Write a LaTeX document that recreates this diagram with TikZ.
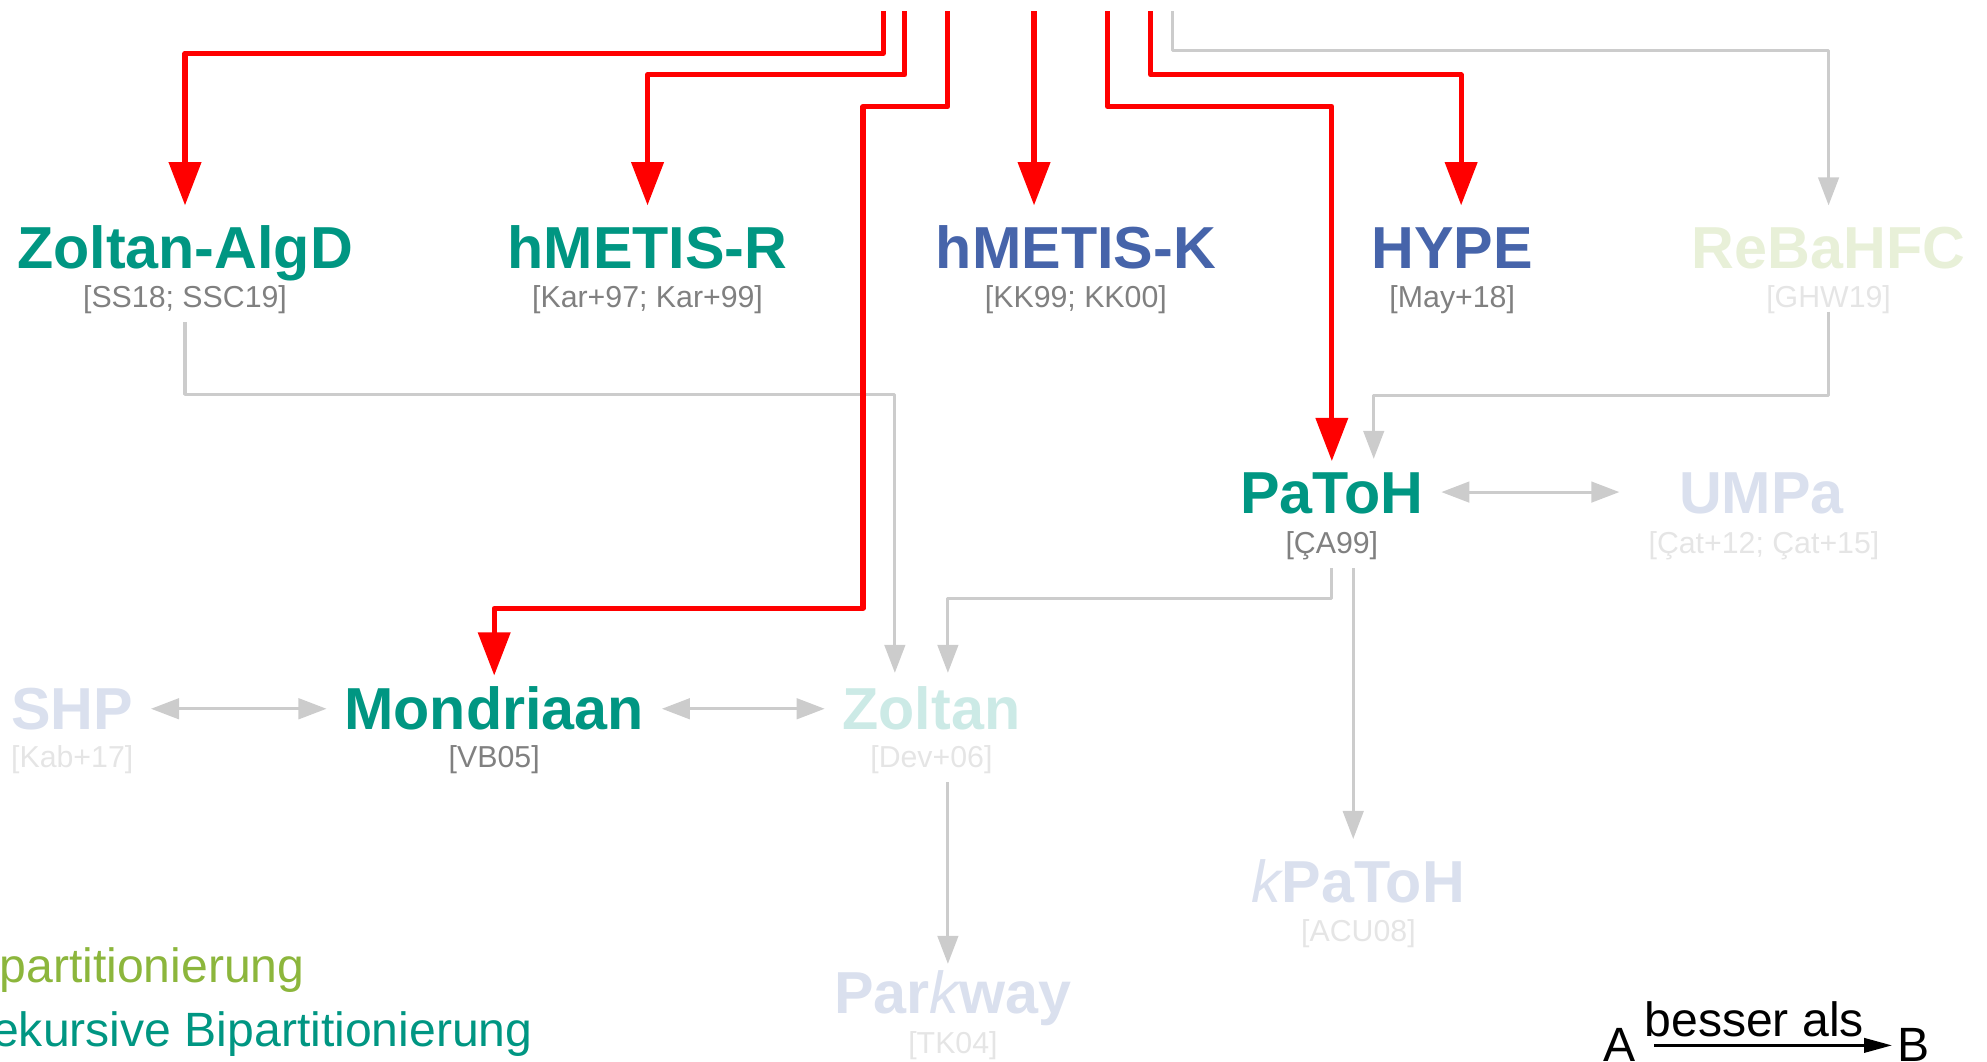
\documentclass[tikz,border=0pt]{standalone}
\usepackage{fontspec}
\setmainfont{Liberation Sans}
\usetikzlibrary{arrows.meta}
\definecolor{kitgreen}{RGB}{0,150,130}
\definecolor{kitblue}{RGB}{70,100,170}
\definecolor{maygreen}{RGB}{140,182,60}
\definecolor{refgray}{RGB}{128,128,128}

\begin{document}
\begin{tikzpicture}[x=0.01cm, y=-0.01cm,
  titel/.style={anchor=base, font=\fontsize{13.3}{16}\selectfont\bfseries, inner sep=0pt, text height=9.5pt, text depth=0pt, outer xsep=4pt, outer ysep=4.7pt},
  quelle/.style={anchor=base, font=\fontsize{6.8}{8}\selectfont, inner sep=0pt, text depth=3pt, text=refgray},
  blass/.style={text=refgray!20},
  legende/.style={font=\fontsize{10.8}{13}\selectfont, inner sep=0pt},
  rot/.style={draw=red, line width=1.15pt, line join=round, -{Triangle[length=9.7pt,width=7.1pt]}},
  grau/.style={draw=black!20, line width=0.7pt, line join=round, -{Triangle[length=6.3pt,width=4.6pt]}},
  beide/.style={grau, {Triangle[length=6.3pt,width=4.6pt]}-{Triangle[length=6.3pt,width=4.6pt]}}]
\useasboundingbox (0,0) rectangle (1568,838);

% erste Reihe
\node[titel, text=kitgreen] (zoltanalgd) at (146,212) {Zoltan-AlgD};
\node[quelle] (zoltanalgd_ref) at (146,243) {[SS18; SSC19]};
\node[titel, text=kitgreen] (hmetisr) at (511,212) {hMETIS-R};
\node[quelle] (hmetisr_ref) at (511,243) {[Kar+97; Kar+99]};
\node[titel, text=kitblue] (hmetisk) at (849,212) {hMETIS-K};
\node[quelle] (hmetisk_ref) at (849,243) {[KK99; KK00]};
\node[titel, text=kitblue] (hype) at (1146,212) {HYPE};
\node[quelle] (hype_ref) at (1146,243) {[May+18]};
\node[titel, text=maygreen!20] (rebahfc) at (1443,212) {ReBaHFC};
\node[quelle, blass] (rebahfc_ref) at (1443,243) {[GHW19]};

\node[titel, text=kitgreen] (patoh) at (1051,405) {PaToH};
\node[quelle] (patoh_ref) at (1051,437) {[ÇA99]};
\node[titel, text=kitblue!20] (umpa) at (1390,405) {UMPa};
\node[quelle, blass] (umpa_ref) at (1392,437) {[Çat+12; Çat+15]};

\node[titel, text=kitblue!20] (shp) at (57,576) {SHP};
\node[quelle, blass] (shp_ref) at (57,606) {[Kab+17]};
\node[titel, text=kitgreen] (mondriaan) at (390,576) {Mondriaan};
\node[quelle] (mondriaan_ref) at (390,606) {[VB05]};
\node[titel, text=kitgreen!20] (zoltan) at (735,576) {Zoltan};
\node[quelle, blass] (zoltan_ref) at (735,606) {[Dev+06]};

\node[titel, text=kitblue!20] (kpatoh) at (1072,712) {{\mdseries\itshape k}PaToH};
\node[quelle, blass] (kpatoh_ref) at (1072,743) {[ACU08]};
\node[titel, text=kitblue!20] (parkway) at (752,800) {Par{\mdseries\itshape k}way};
\node[quelle, blass] (parkway_ref) at (752,831) {[TK04]};

% Eingänge von oben
\coordinate (oben_1) at (697,9);
\coordinate (oben_2) at (714,9);
\coordinate (oben_3) at (748,9);
\coordinate (oben_4) at (816,9);
\coordinate (oben_5) at (874,9);
\coordinate (oben_6) at (908,9);
\coordinate (oben_7) at (925,9);
\coordinate (kp_start) at ([xshift=4.8pt]patoh_ref.south);
\coordinate (pw_start) at ([xshift=3.7pt]zoltan_ref.south);

\draw[grau] (oben_7) -- ++(0,31) -| (rebahfc.north);
\draw[grau] (zoltanalgd_ref.south) -- ++(0,57) -| ([xshift=-8.2pt, yshift=-1.4pt]zoltan.north);
\draw[grau] ([yshift=2.4pt]rebahfc_ref.south) -- ++(0,66) -| ([xshift=9.4pt, yshift=-2pt]patoh.north);
\draw[grau] (patoh_ref.south) -- ++(0,24) -| ([xshift=3.7pt, yshift=-1.4pt]zoltan.north);
\draw[grau] (kp_start) -- (kp_start |- kpatoh.north);
\draw[grau, shorten >=-3pt] (pw_start) -- (pw_start |- parkway.north);
\draw[beide] (shp) -- (mondriaan);
\draw[beide] (mondriaan) -- (zoltan);
\draw[beide] (patoh) -- ([xshift=-9.4pt]umpa.west);

\draw[rot] (oben_1) -- ++(0,33) -| (zoltanalgd.north);
\draw[rot] (oben_2) -- ++(0,50) -| (hmetisr.north);
\draw[rot] (oben_3) -- ++(0,75) -- ++(-67,0) -- ++(0,396) -| ([yshift=-2pt]mondriaan.north);
\draw[rot] (oben_4) -- (oben_4 |- hmetisk.north);
\draw[rot] (oben_5) -- ++(0,75) -| ([yshift=-2.5pt]patoh.north);
\draw[rot] (oben_6) -- ++(0,50) -| ([xshift=2pt]hype.north);

% Legende
\node[legende, text=maygreen, anchor=base east] (lg_kway) at (241,775) {partitionierung};
\node[legende, text=kitgreen, anchor=base east] (lg_rb) at (421,826) {ekursive Bipartitionierung};
\node[legende, anchor=base, inner xsep=4pt] (lg_a) at (1278,838) {A};
\node[legende, anchor=base, inner xsep=1pt] (lg_b) at (1510,838) {B};
\draw[line width=0.7pt, -{Triangle[length=6.3pt,width=3.2pt]}] (lg_a) -- (lg_b) node[legende, pos=0.42, above=1.5pt] {besser als};
\end{tikzpicture}
\end{document}
